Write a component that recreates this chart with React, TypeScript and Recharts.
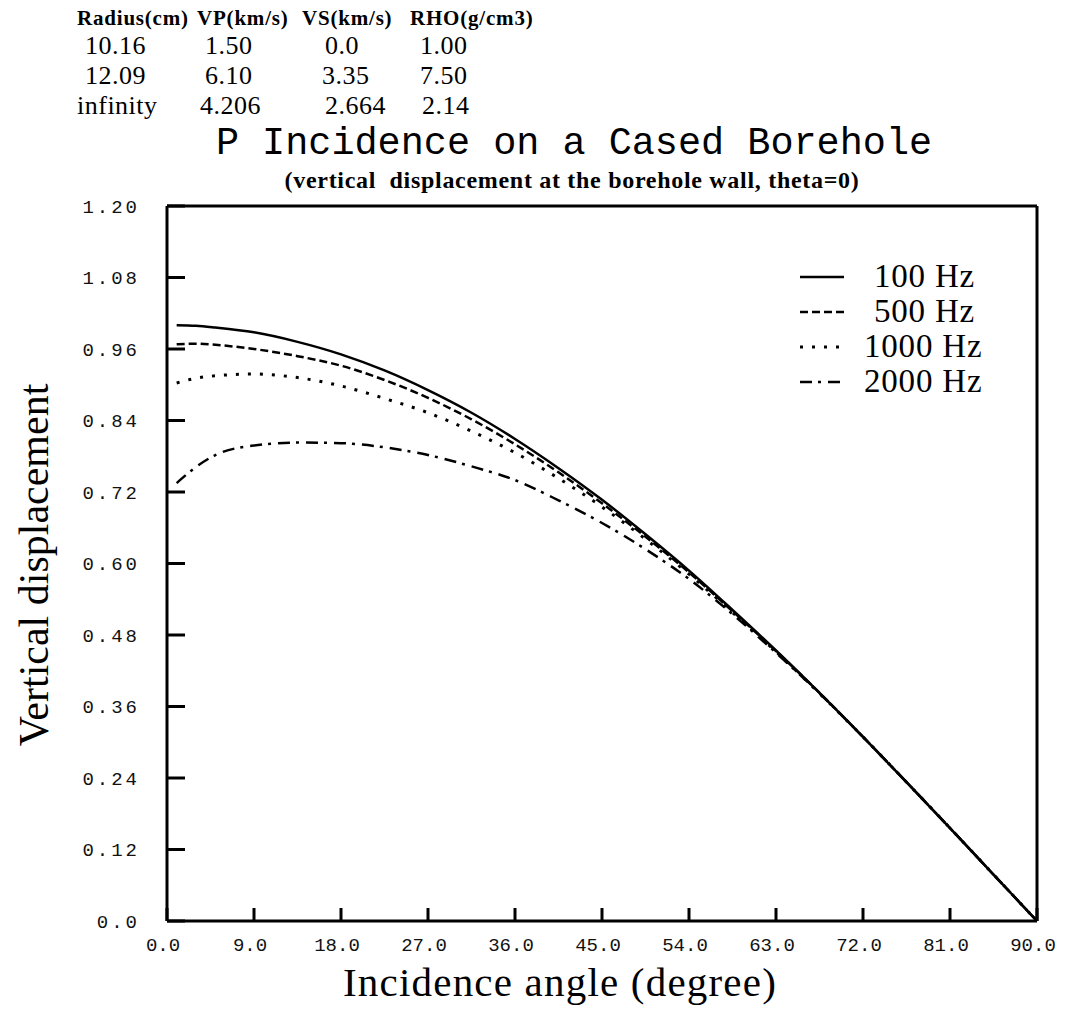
import { LineChart, Line, XAxis, YAxis, ReferenceLine, Legend } from "recharts";

// incidence angle (degree)
const ANGLES = [1, 3, 5, 9, 13.5, 18, 22.5, 27, 31.5, 36, 40.5, 45, 49.5, 54, 58.5, 63, 67.5, 72, 76.5, 81, 85.5, 90];

// vertical displacement
const HZ100 = [1.0, 0.999, 0.996, 0.988, 0.972, 0.951, 0.924, 0.891, 0.853, 0.809, 0.76, 0.707, 0.649, 0.588, 0.522, 0.454, 0.383, 0.309, 0.233, 0.156, 0.078, 0.0];
const HZ500 = [0.968, 0.969, 0.967, 0.96, 0.948, 0.932, 0.908, 0.878, 0.842, 0.8, 0.753, 0.701, 0.645, 0.585, 0.52, 0.453, 0.383, 0.309, 0.233, 0.156, 0.078, 0.0];
const HZ1000 = [0.903, 0.911, 0.915, 0.918, 0.912, 0.898, 0.877, 0.853, 0.822, 0.786, 0.743, 0.695, 0.641, 0.582, 0.518, 0.452, 0.382, 0.309, 0.233, 0.156, 0.078, 0.0];
const HZ2000 = [0.735, 0.762, 0.782, 0.798, 0.803, 0.802, 0.795, 0.782, 0.763, 0.74, 0.706, 0.668, 0.624, 0.574, 0.515, 0.45, 0.382, 0.309, 0.233, 0.156, 0.078, 0.0];

const X_TICKS = [0, 9, 18, 27, 36, 45, 54, 63, 72, 81, 90];
const Y_TICKS = [0, 0.12, 0.24, 0.36, 0.48, 0.6, 0.72, 0.84, 0.96, 1.08, 1.2];

// model parameters shown above the plot
const TABLE_HEAD = ["Radius(cm)", "VP(km/s)", "VS(km/s)", "RHO(g/cm3)"];
const TABLE_ROWS = [
  ["10.16", "1.50", "0.0", "1.00"],
  ["12.09", "6.10", "3.35", "7.50"],
  ["infinity", "4.206", "2.664", "2.14"],
];

const SERIES = [
  { key: "hz100", name: "100 Hz", dash: undefined as string | undefined, width: 2.5 },
  { key: "hz500", name: "500 Hz", dash: "8 4", width: 2.5 },
  { key: "hz1000", name: "1000 Hz", dash: "3 9", width: 3 },
  { key: "hz2000", name: "2000 Hz", dash: "12 6 3 7", width: 2.5 },
];

const data = ANGLES.map((a, i) => ({
  angle: a,
  hz100: HZ100[i],
  hz500: HZ500[i],
  hz1000: HZ1000[i],
  hz2000: HZ2000[i],
}));

const SERIF = '"Liberation Serif", "Times New Roman", serif';
const MONO = '"Liberation Mono", "Courier New", monospace';

const HEAD_X = [77, 197, 302, 410];
const ROW_X = [
  [85, 205, 325, 420],
  [85, 205, 322, 420],
  [77, 200, 325, 422],
];

function LegendBox() {
  return (
    <div style={{ fontFamily: SERIF, fontSize: 33, color: "#000", letterSpacing: 0.8 }}>
      {SERIES.map((s) => (
        <div key={s.key} style={{ display: "flex", alignItems: "center", height: 35 }}>
          <svg width={44} height={10} style={{ marginRight: s.name.length > 6 ? 20 : 30 }}>
            <line x1={0} y1={5} x2={44} y2={5} stroke="#000" strokeWidth={s.width} strokeDasharray={s.dash} />
          </svg>
          <span style={{ lineHeight: "33px" }}>{s.name}</span>
        </div>
      ))}
    </div>
  );
}

export default function App() {
  return (
    <div style={{ position: "absolute", left: 0, top: 0, width: 1068, height: 1013, background: "#fff" }}>
      {TABLE_HEAD.map((h, i) => (
        <div
          key={h}
          style={{ position: "absolute", left: HEAD_X[i], top: 8, fontFamily: SERIF, fontWeight: 700, fontSize: 21, lineHeight: "21px", letterSpacing: 0.8, whiteSpace: "nowrap" }}
        >
          {h}
        </div>
      ))}
      {TABLE_ROWS.map((row, r) =>
        row.map((v, c) => (
          <div
            key={`${r}-${c}`}
            style={{ position: "absolute", left: ROW_X[r][c], top: 33 + r * 30, fontFamily: SERIF, fontSize: 26, lineHeight: "26px", letterSpacing: 0.5, whiteSpace: "nowrap" }}
          >
            {v}
          </div>
        ))
      )}

      <div
        style={{ position: "absolute", left: 574, top: 125, transform: "translateX(-50%)", fontFamily: MONO, fontSize: 38.5, lineHeight: "38.5px", whiteSpace: "nowrap" }}
      >
        P Incidence on a Cased Borehole
      </div>
      <div
        style={{ position: "absolute", left: 572, top: 168, transform: "translateX(-50%)", fontFamily: SERIF, fontWeight: 700, fontSize: 24, lineHeight: "24px", letterSpacing: 0.7, whiteSpace: "pre" }}
      >
        (vertical  displacement at the borehole wall, theta=0)
      </div>

      <div
        style={{ position: "absolute", left: 34, top: 565, transform: "translate(-50%, -50%) rotate(-90deg)", fontFamily: SERIF, fontSize: 42, lineHeight: "42px", whiteSpace: "nowrap" }}
      >
        Vertical displacement
      </div>
      <div
        style={{ position: "absolute", left: 560, top: 967, transform: "translateX(-50%)", fontFamily: SERIF, fontSize: 41, lineHeight: "30px", letterSpacing: 1.2, whiteSpace: "nowrap" }}
      >
        Incidence angle (degree)
      </div>

      <div style={{ position: "absolute", left: 0, top: 0 }}>
        <LineChart width={1068} height={1013} data={data} margin={{ top: 206, right: 31, bottom: 52, left: 107 }}>
          <XAxis
            dataKey="angle"
            type="number"
            domain={[0, 90]}
            ticks={X_TICKS}
            interval={0}
            height={40}
            tickFormatter={(v: number) => v.toFixed(1)}
            axisLine={{ stroke: "#000", strokeWidth: 3 }}
            tickLine={{ stroke: "#000", strokeWidth: 3 }}
            tickSize={-13}
            tickMargin={30}
            tick={{ fontFamily: MONO, fontSize: 19, fill: "#111", dx: -4 }}
          />
          <YAxis
            type="number"
            domain={[0, 1.2]}
            ticks={Y_TICKS}
            interval={0}
            width={60}
            tickFormatter={(v: number) => (v === 0 ? "0.0" : v.toFixed(2))}
            axisLine={{ stroke: "#000", strokeWidth: 3 }}
            tickLine={{ stroke: "#000", strokeWidth: 3 }}
            tickSize={-18}
            tickMargin={45}
            tick={{ fontFamily: MONO, fontSize: 19, fill: "#111", letterSpacing: 3 }}
          />
          <ReferenceLine y={1.2} stroke="#000" strokeWidth={3} />
          <ReferenceLine x={90} stroke="#000" strokeWidth={3} />
          {SERIES.map((s) => (
            <Line
              key={s.key}
              dataKey={s.key}
              name={s.name}
              type="monotone"
              stroke="#000"
              strokeWidth={s.width}
              strokeDasharray={s.dash}
              dot={false}
              isAnimationActive={false}
            />
          ))}
          <Legend
            layout="vertical"
            align="center"
            verticalAlign="middle"
            wrapperStyle={{ left: 800, top: 259, width: 240 }}
            content={() => <LegendBox />}
          />
        </LineChart>
      </div>
    </div>
  );
}
